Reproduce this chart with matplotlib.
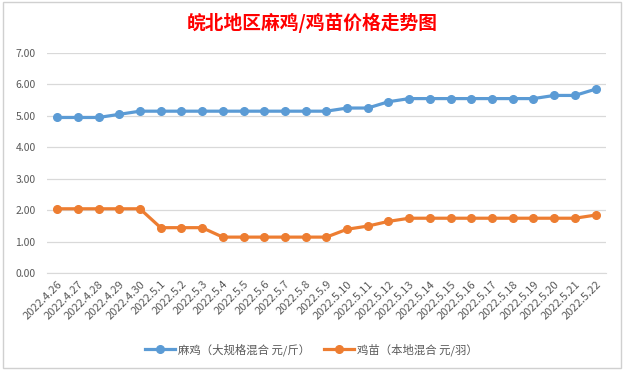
import matplotlib
matplotlib.use("Agg")
import matplotlib.pyplot as plt
from matplotlib.patches import Rectangle

plt.rcParams['font.family'] = ['Noto Sans CJK SC', 'DejaVu Sans']

dates = ["2022.4.26", "2022.4.27", "2022.4.28", "2022.4.29", "2022.4.30",
         "2022.5.1", "2022.5.2", "2022.5.3", "2022.5.4", "2022.5.5", "2022.5.6",
         "2022.5.7", "2022.5.8", "2022.5.9", "2022.5.10", "2022.5.11", "2022.5.12",
         "2022.5.13", "2022.5.14", "2022.5.15", "2022.5.16", "2022.5.17",
         "2022.5.18", "2022.5.19", "2022.5.20", "2022.5.21", "2022.5.22"]
maji = [4.95, 4.95, 4.95, 5.05, 5.15, 5.15, 5.15, 5.15, 5.15, 5.15, 5.15, 5.15,
        5.15, 5.15, 5.25, 5.25, 5.45, 5.55, 5.55, 5.55, 5.55, 5.55, 5.55, 5.55,
        5.65, 5.65, 5.85]
jimiao = [2.05, 2.05, 2.05, 2.05, 2.05, 1.45, 1.45, 1.45, 1.15, 1.15, 1.15, 1.15,
          1.15, 1.15, 1.40, 1.50, 1.65, 1.75, 1.75, 1.75, 1.75, 1.75, 1.75, 1.75,
          1.75, 1.75, 1.85]
series_names = ["麻鸡（大规格混合 元/斤）", "鸡苗（本地混合 元/羽）"]
yticks = [0, 1, 2, 3, 4, 5, 6, 7]
title = "皖北地区麻鸡/鸡苗价格走势图"

fig = plt.figure(figsize=(6.23, 3.71), dpi=100)
fig.patch.set_facecolor('white')
fig.patches.append(Rectangle((0.005, 0.008), 0.992, 0.986, transform=fig.transFigure,
                             fill=False, edgecolor='#D0D0D0', linewidth=1.0))

ax = fig.add_axes([0.075, 0.2633, 0.8977, 0.594])
x = list(range(len(dates)))
ax.plot(x, maji, color='#5B9BD5', linewidth=2.3, marker='o', markersize=5.5,
        label=series_names[0], zorder=3)
ax.plot(x, jimiao, color='#ED7D31', linewidth=2.3, marker='o', markersize=5.5,
        label=series_names[1], zorder=3)

ax.set_xlim(-0.5, len(dates) - 0.5)
ax.set_ylim(0, 7)
ax.set_yticks(yticks)
ax.set_yticklabels([f"{v:.2f}" for v in yticks], fontsize=7.5, color='#595959')
ax.set_xticks(x)
ax.set_xticklabels(dates, rotation=45, ha='right', va='top', rotation_mode='anchor',
                   fontsize=8, color='#595959')
ax.grid(axis='y', color='#D9D9D9', linewidth=0.9)
ax.set_axisbelow(True)
for s in ['top', 'right', 'left']:
    ax.spines[s].set_visible(False)
ax.spines['bottom'].set_color('#D9D9D9')
ax.tick_params(axis='y', length=0, pad=8)
ax.tick_params(axis='x', length=0, pad=4)

fig.text(0.5016, 0.939, title, color='red', fontsize=13.5, fontweight='bold',
         ha='center', va='center')

fig.legend(loc='center', bbox_to_anchor=(0.5, 0.058), ncol=2, frameon=False,
           fontsize=8.2, labelcolor='#595959', handlelength=2.6, columnspacing=1.2,
           handletextpad=0.3)

fig.savefig('out.png', dpi=100)
